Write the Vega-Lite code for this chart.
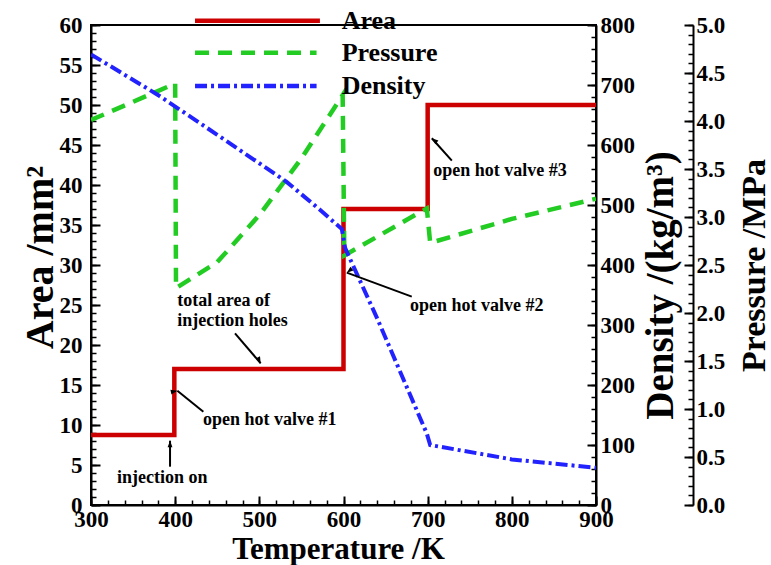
{
  "$schema": "https://vega.github.io/schema/vega-lite/v6.json",
  "width": 505,
  "height": 480,
  "autosize": {"type": "none"},
  "padding": {"left": 91, "top": 25, "right": 175, "bottom": 60},
  "background": "white",
  "config": {
    "view": {"stroke": "black", "strokeWidth": 2},
    "axis": {
      "labelFont": "Liberation Serif", "labelFontWeight": "bold", "labelFontSize": 23, "labelColor": "black",
      "titleFont": "Liberation Serif", "titleFontWeight": "bold", "titleColor": "black",
      "domainColor": "black", "domainWidth": 2, "tickColor": "black", "tickWidth": 2,
      "grid": false, "labelFlush": false, "labelOverlap": false, "labelBound": false
    },
    "text": {"font": "Liberation Serif", "fontWeight": "bold", "color": "black"}
  },
  "datasets": {
    "curves": [
      {"s": "Area", "T": 300, "v": 8.75, "i": 0},
      {"s": "Area", "T": 399, "v": 8.75, "i": 1},
      {"s": "Area", "T": 399, "v": 17, "i": 2},
      {"s": "Area", "T": 600, "v": 17, "i": 3},
      {"s": "Area", "T": 600, "v": 37, "i": 4},
      {"s": "Area", "T": 700, "v": 37, "i": 5},
      {"s": "Area", "T": 700, "v": 50, "i": 6},
      {"s": "Area", "T": 900, "v": 50, "i": 7},
      {"s": "Pressure", "T": 300, "v": 4.01, "i": 0},
      {"s": "Pressure", "T": 350, "v": 4.2, "i": 1},
      {"s": "Pressure", "T": 400, "v": 4.39, "i": 2},
      {"s": "Pressure", "T": 401, "v": 2.26, "i": 3},
      {"s": "Pressure", "T": 450, "v": 2.53, "i": 4},
      {"s": "Pressure", "T": 500, "v": 3.02, "i": 5},
      {"s": "Pressure", "T": 550, "v": 3.61, "i": 6},
      {"s": "Pressure", "T": 599, "v": 4.27, "i": 7},
      {"s": "Pressure", "T": 601, "v": 2.6, "i": 8},
      {"s": "Pressure", "T": 699, "v": 3.09, "i": 9},
      {"s": "Pressure", "T": 703, "v": 2.73, "i": 10},
      {"s": "Pressure", "T": 800, "v": 2.98, "i": 11},
      {"s": "Pressure", "T": 900, "v": 3.19, "i": 12},
      {"s": "Density", "T": 300, "v": 751, "i": 0},
      {"s": "Density", "T": 380, "v": 683, "i": 1},
      {"s": "Density", "T": 450, "v": 617, "i": 2},
      {"s": "Density", "T": 532, "v": 539, "i": 3},
      {"s": "Density", "T": 572, "v": 492, "i": 4},
      {"s": "Density", "T": 598, "v": 460, "i": 5},
      {"s": "Density", "T": 602, "v": 428, "i": 6},
      {"s": "Density", "T": 640, "v": 311, "i": 7},
      {"s": "Density", "T": 699, "v": 119, "i": 8},
      {"s": "Density", "T": 703, "v": 100, "i": 9},
      {"s": "Density", "T": 800, "v": 76, "i": 10},
      {"s": "Density", "T": 900, "v": 62, "i": 11}
    ],
    "legendLines": [
      {"s": "Area", "T": 423.6, "a": 60.54},
      {"s": "Area", "T": 572, "a": 60.54},
      {"s": "Pressure", "T": 423.6, "a": 56.54},
      {"s": "Pressure", "T": 568, "a": 56.54},
      {"s": "Density", "T": 423.6, "a": 52.38},
      {"s": "Density", "T": 568, "a": 52.38}
    ],
    "legendText": [
      {"s": "Area", "T": 597.8, "a": 60.54},
      {"s": "Pressure", "T": 597.8, "a": 56.54},
      {"s": "Density", "T": 597.8, "a": 52.38}
    ],
    "notes": [
      {"text": "injection on", "T": 330.9, "a": 3.38},
      {"text": "open hot valve #1", "T": 433.1, "a": 10.63},
      {"text": "total area of", "T": 402.5, "a": 25.5},
      {"text": "injection holes", "T": 402.5, "a": 23.0},
      {"text": "open hot valve #2", "T": 679, "a": 24.9},
      {"text": "open hot valve #3", "T": 706.7, "a": 41.8}
    ],
    "arrows": [
      {"id": "on", "T1": 393.9, "a1": 4.79, "T2": 393.9, "a2": 8.04},
      {"id": "v1", "T1": 433.5, "a1": 11.66, "T2": 402.6, "a2": 14.29},
      {"id": "tot", "T1": 471.1, "a1": 21.46, "T2": 501.6, "a2": 17.71},
      {"id": "v2", "T1": 681.1, "a1": 26.04, "T2": 603.9, "a2": 29.04},
      {"id": "v3", "T1": 728.7, "a1": 43.04, "T2": 704.9, "a2": 45.84}
    ]
  },
  "layer": [
    {
      "data": {"name": "curves"},
      "transform": [{"filter": "datum.s === 'Area'"}],
      "mark": {"type": "line", "color": "#cc0000", "strokeWidth": 4.5, "clip": true},
      "encoding": {
        "x": {"field": "T", "type": "quantitative", "scale": {"domain": [300, 900], "nice": false},
          "axis": {"orient": "bottom", "values": [300, 400, 500, 600, 700, 800, 900], "tickSize": -9, "labelPadding": 12,
            "title": "Temperature /K", "titleFontSize": 31, "titleX": 247, "titleY": 44, "titleBaseline": "middle", "titleAlign": "center"}},
        "y": {"field": "v", "type": "quantitative", "scale": {"domain": [0, 60], "nice": false},
          "axis": {"orient": "left", "values": [0, 5, 10, 15, 20, 25, 30, 35, 40, 45, 50, 55, 60], "tickSize": -9, "labelPadding": 18,
            "title": "Area /mm²", "titleFontSize": 40, "titleX": -51, "titleY": 232, "titleAngle": 270, "titleBaseline": "middle", "titleAlign": "center"}},
        "order": {"field": "i", "type": "quantitative"}
      }
    },
    {
      "data": {"name": "curves"},
      "transform": [{"filter": "datum.s === 'Pressure'"}],
      "mark": {"type": "line", "color": "#22cc22", "strokeWidth": 4.5, "strokeDash": [14, 9], "clip": true},
      "encoding": {
        "x": {"field": "T", "type": "quantitative", "scale": {"domain": [300, 900], "nice": false}, "axis": null},
        "y": {"field": "v", "type": "quantitative", "scale": {"domain": [0, 5], "nice": false},
          "axis": {"orient": "right", "offset": 97, "values": [0, 0.5, 1, 1.5, 2, 2.5, 3, 3.5, 4, 4.5, 5], "format": ".1f", "tickSize": -9, "labelPadding": 12,
            "title": "Pressure /MPa", "titleFontSize": 34, "titleX": 61, "titleY": 240, "titleAngle": 270, "titleBaseline": "middle", "titleAlign": "center"}},
        "order": {"field": "i", "type": "quantitative"}
      }
    },
    {
      "data": {"name": "curves"},
      "transform": [{"filter": "datum.s === 'Density'"}],
      "mark": {"type": "line", "color": "#2222ff", "strokeWidth": 4, "strokeDash": [12, 4, 3, 4], "clip": true},
      "encoding": {
        "x": {"field": "T", "type": "quantitative", "scale": {"domain": [300, 900], "nice": false}, "axis": null},
        "y": {"field": "v", "type": "quantitative", "scale": {"domain": [0, 800], "nice": false},
          "axis": {"orient": "right", "values": [0, 100, 200, 300, 400, 500, 600, 700, 800], "tickSize": -9, "labelPadding": 13,
            "title": "Density /(kg/m³)", "titleFontSize": 39, "titleX": 64, "titleY": 260, "titleAngle": 270, "titleBaseline": "middle", "titleAlign": "center"}},
        "order": {"field": "i", "type": "quantitative"}
      }
    },
    {
      "data": {"name": "curves"},
      "transform": [{"filter": "datum.s === 'Area'"}],
      "mark": {"type": "line", "opacity": 0},
      "encoding": {
        "x": {"field": "T", "type": "quantitative", "scale": {"domain": [300, 900], "nice": false},
          "axis": {"orient": "bottom", "values": [300, 320, 340, 360, 380, 400, 420, 440, 460, 480, 500, 520, 540, 560, 580, 600, 620, 640, 660, 680, 700, 720, 740, 760, 780, 800, 820, 840, 860, 880, 900],
            "tickSize": -5, "tickWidth": 1.5, "labels": false, "domain": false, "title": null}},
        "y": {"field": "v", "type": "quantitative", "scale": {"domain": [0, 60], "nice": false},
          "axis": {"orient": "left", "values": [0, 1, 2, 3, 4, 5, 6, 7, 8, 9, 10, 11, 12, 13, 14, 15, 16, 17, 18, 19, 20, 21, 22, 23, 24, 25, 26, 27, 28, 29, 30, 31, 32, 33, 34, 35, 36, 37, 38, 39, 40, 41, 42, 43, 44, 45, 46, 47, 48, 49, 50, 51, 52, 53, 54, 55, 56, 57, 58, 59, 60],
            "tickSize": -5, "tickWidth": 1.5, "labels": false, "domain": false, "title": null}}
      }
    },
    {
      "data": {"name": "curves"},
      "transform": [{"filter": "datum.s === 'Density'"}],
      "mark": {"type": "line", "opacity": 0},
      "encoding": {
        "x": {"field": "T", "type": "quantitative", "scale": {"domain": [300, 900], "nice": false}, "axis": null},
        "y": {"field": "v", "type": "quantitative", "scale": {"domain": [0, 800], "nice": false},
          "axis": {"orient": "right", "values": [0, 20, 40, 60, 80, 100, 120, 140, 160, 180, 200, 220, 240, 260, 280, 300, 320, 340, 360, 380, 400, 420, 440, 460, 480, 500, 520, 540, 560, 580, 600, 620, 640, 660, 680, 700, 720, 740, 760, 780, 800],
            "tickSize": -5, "tickWidth": 1.5, "labels": false, "domain": false, "title": null}}
      }
    },
    {
      "data": {"name": "curves"},
      "transform": [{"filter": "datum.s === 'Pressure'"}],
      "mark": {"type": "line", "opacity": 0},
      "encoding": {
        "x": {"field": "T", "type": "quantitative", "scale": {"domain": [300, 900], "nice": false}, "axis": null},
        "y": {"field": "v", "type": "quantitative", "scale": {"domain": [0, 5], "nice": false},
          "axis": {"orient": "right", "offset": 97, "values": [0, 0.1, 0.2, 0.3, 0.4, 0.5, 0.6, 0.7, 0.8, 0.9, 1, 1.1, 1.2, 1.3, 1.4, 1.5, 1.6, 1.7, 1.8, 1.9, 2, 2.1, 2.2, 2.3, 2.4, 2.5, 2.6, 2.7, 2.8, 2.9, 3, 3.1, 3.2, 3.3, 3.4, 3.5, 3.6, 3.7, 3.8, 3.9, 4, 4.1, 4.2, 4.3, 4.4, 4.5, 4.6, 4.7, 4.8, 4.9, 5],
            "tickSize": -5, "tickWidth": 1.5, "labels": false, "domain": false, "title": null}}
      }
    },
    {
      "data": {"name": "legendLines"},
      "mark": {"type": "line", "strokeWidth": 4.5},
      "encoding": {
        "x": {"field": "T", "type": "quantitative", "scale": {"domain": [300, 900], "nice": false}, "axis": null},
        "y": {"field": "a", "type": "quantitative", "scale": {"domain": [0, 60], "nice": false}, "axis": null},
        "color": {"field": "s", "type": "nominal", "scale": {"domain": ["Area", "Pressure", "Density"], "range": ["#cc0000", "#22cc22", "#2222ff"]}, "legend": null},
        "strokeDash": {"field": "s", "type": "nominal", "scale": {"domain": ["Area", "Pressure", "Density"], "range": [[1, 0], [14, 9], [12, 4, 3, 4]]}, "legend": null}
      }
    },
    {
      "data": {"name": "legendText"},
      "mark": {"type": "text", "align": "left", "baseline": "middle", "fontSize": 26},
      "encoding": {
        "x": {"field": "T", "type": "quantitative", "scale": {"domain": [300, 900], "nice": false}, "axis": null},
        "y": {"field": "a", "type": "quantitative", "scale": {"domain": [0, 60], "nice": false}, "axis": null},
        "text": {"field": "s"}
      }
    },
    {
      "data": {"name": "notes"},
      "mark": {"type": "text", "align": "left", "baseline": "middle", "fontSize": 18},
      "encoding": {
        "x": {"field": "T", "type": "quantitative", "scale": {"domain": [300, 900], "nice": false}, "axis": null},
        "y": {"field": "a", "type": "quantitative", "scale": {"domain": [0, 60], "nice": false}, "axis": null},
        "text": {"field": "text"}
      }
    },
    {
      "data": {"name": "arrows"},
      "mark": {"type": "rule", "color": "black", "strokeWidth": 2},
      "encoding": {
        "x": {"field": "T1", "type": "quantitative", "scale": {"domain": [300, 900], "nice": false}, "axis": null},
        "y": {"field": "a1", "type": "quantitative", "scale": {"domain": [0, 60], "nice": false}, "axis": null},
        "x2": {"field": "T2"},
        "y2": {"field": "a2"}
      }
    },
    {
      "data": {"name": "arrows"},
      "mark": {"type": "point", "filled": true, "color": "black", "opacity": 1, "shape": "M0,0L-0.8,2.2L0.8,2.2Z", "size": 36},
      "encoding": {
        "x": {"field": "T2", "type": "quantitative", "scale": {"domain": [300, 900], "nice": false}, "axis": null},
        "y": {"field": "a2", "type": "quantitative", "scale": {"domain": [0, 60], "nice": false}, "axis": null},
        "angle": {"field": "id", "type": "nominal", "scale": {"domain": ["on", "v1", "tot", "v2", "v3"], "range": [0, 309, 139, 290, 318]}, "legend": null}
      }
    }
  ],
  "resolve": {
    "scale": {"x": "independent", "y": "independent", "angle": "independent"},
    "axis": {"x": "independent", "y": "independent"}
  }
}
